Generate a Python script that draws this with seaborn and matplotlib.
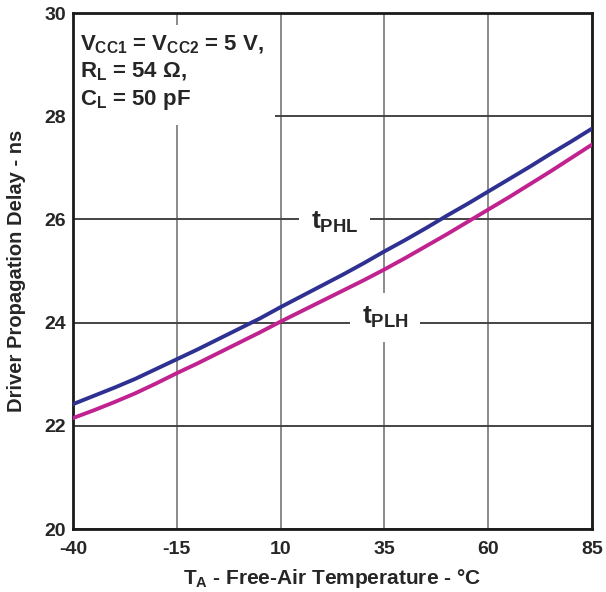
import matplotlib
matplotlib.use("Agg")
import matplotlib.pyplot as plt
from matplotlib.patches import Rectangle
import seaborn as sns
import pandas as pd

temps = [-40, -35, -30, -25, -20, -15, -10, -5, 0, 5, 10, 15, 20, 25, 30, 35, 40, 45, 50, 55, 60, 65, 70, 75, 80, 85]
t_phl = [22.42, 22.58, 22.74, 22.91, 23.10, 23.29, 23.48, 23.68, 23.88, 24.08, 24.30, 24.51, 24.72, 24.93, 25.15, 25.38, 25.60, 25.83, 26.07, 26.30, 26.54, 26.78, 27.02, 27.27, 27.51, 27.76]
t_plh = [22.15, 22.30, 22.46, 22.63, 22.82, 23.02, 23.21, 23.41, 23.61, 23.81, 24.02, 24.22, 24.42, 24.62, 24.82, 25.03, 25.25, 25.48, 25.71, 25.95, 26.19, 26.43, 26.68, 26.93, 27.19, 27.45]
x_ticks = [-40, -15, 10, 35, 60, 85]
y_ticks = [20, 22, 24, 26, 28, 30]

df = pd.DataFrame({
    "T": temps * 2,
    "delay": t_phl + t_plh,
    "series": ["tPHL"] * len(temps) + ["tPLH"] * len(temps),
})

sns.set_theme(style="white")
plt.rcParams["font.family"] = ["Liberation Sans", "DejaVu Sans"]
plt.rcParams["mathtext.fontset"] = "custom"
plt.rcParams["mathtext.rm"] = "Liberation Sans:bold"
plt.rcParams["mathtext.it"] = "Liberation Sans:bold"
plt.rcParams["mathtext.bf"] = "Liberation Sans:bold"

fig = plt.figure(figsize=(6.06, 5.92), dpi=100)
ax = fig.add_axes([73 / 606, 1 - 529 / 592, 519 / 606, 516 / 592])

sns.lineplot(data=df, x="T", y="delay", hue="series",
             palette={"tPHL": "#2e3192", "tPLH": "#c0238f"},
             linewidth=2.8, legend=False, ax=ax, zorder=3)

ax.set_xlim(-40, 85)
ax.set_ylim(20, 30)
ax.set_xticks(x_ticks)
ax.set_yticks(y_ticks)
ax.set_xticklabels([str(v) for v in x_ticks], fontsize=14, fontweight="bold")
ax.set_yticklabels([str(v) for v in y_ticks], fontsize=14, fontweight="bold")
ax.tick_params(axis="x", length=0, pad=9)
ax.tick_params(axis="y", length=0, pad=5)
ax.xaxis.grid(True, color="#8a8a8a", linewidth=1.4, zorder=0)
ax.yaxis.grid(True, color="#444444", linewidth=1.4, zorder=0)
ax.set_axisbelow(True)
for s in ax.spines.values():
    s.set_color("#1a1a1a")
    s.set_linewidth(2.0)

ax.set_xlabel("$T_A$ - Free-Air Temperature - °C", fontsize=15, fontweight="bold", labelpad=6)
ax.set_ylabel("Driver Propagation Delay - ns", fontsize=14.5, fontweight="bold", labelpad=13)

# white background box behind the condition text
ax.add_patch(Rectangle((-40, 27.83), 48.6, 1.94, facecolor="white", edgecolor="none", zorder=1))
ax.text(-38.3, 29.6, "$V_{CC1}$ = $V_{CC2}$ = 5 V,\n$R_L$ = 54 Ω,\n$C_L$ = 50 pF",
        fontsize=16, fontweight="bold", va="top", ha="left", linespacing=1.3, zorder=4)

box = dict(facecolor="white", edgecolor="none", boxstyle="square,pad=0.45")
ax.text(23, 25.95, "$t_{PHL}$", fontsize=19, fontweight="bold", ha="center", va="center",
        bbox=box, zorder=4)
ax.text(35.2, 24.1, "$t_{PLH}$", fontsize=19, fontweight="bold", ha="center", va="center",
        bbox=box, zorder=4)

fig.savefig("out.png", dpi=100)
